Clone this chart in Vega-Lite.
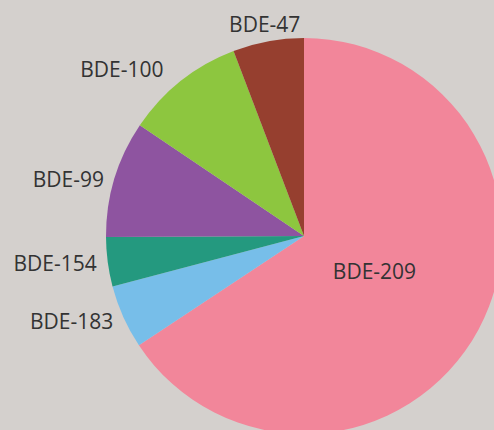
{
  "$schema": "https://vega.github.io/schema/vega-lite/v6.json",
  "autosize": {"type": "none"},
  "width": 380,
  "height": 388,
  "padding": {"left": 114, "top": 42, "right": 0, "bottom": 0},
  "background": "#D4D0CD",
  "config": {"view": {"stroke": null}, "text": {"font": "Open Sans", "fontSize": 21, "fill": "#333333"}},
  "data": {"values": [
    {"label": "BDE-209", "value": 65.69, "order": 1},
    {"label": "BDE-183", "value": 5.21, "order": 2},
    {"label": "BDE-154", "value": 4.01, "order": 3},
    {"label": "BDE-99", "value": 9.53, "order": 4},
    {"label": "BDE-100", "value": 9.77, "order": 5},
    {"label": "BDE-47", "value": 5.79, "order": 6}
  ]},
  "encoding": {
    "theta": {"field": "value", "type": "quantitative", "stack": true},
    "order": {"field": "order", "type": "quantitative", "sort": "ascending"}
  },
  "layer": [
    {
      "mark": {"type": "arc", "outerRadius": 198, "strokeWidth": 0},
      "encoding": {
        "color": {"field": "label", "type": "nominal", "legend": null,
          "scale": {"domain": ["BDE-209", "BDE-183", "BDE-154", "BDE-99", "BDE-100", "BDE-47"],
                    "range": ["#F2869A", "#77BEE9", "#24997F", "#8E54A0", "#8DC63F", "#963F2F"]}}
      }
    },
    {
      "mark": {"type": "text", "radius": 209, "align": "right", "baseline": "middle", "dy": 2},
      "encoding": {"text": {"condition": {"test": "datum.label == 'BDE-154' || datum.label == 'BDE-183'", "field": "label"}, "value": ""}}
    },
    {
      "mark": {"type": "text", "radius": 209, "align": "right", "baseline": "middle", "dy": 6},
      "encoding": {"text": {"condition": {"test": "datum.label == 'BDE-99'", "field": "label"}, "value": ""}}
    },
    {
      "mark": {"type": "text", "radius": 218, "align": "right", "baseline": "middle", "dx": -5, "dy": 6},
      "encoding": {"text": {"condition": {"test": "datum.label == 'BDE-100'", "field": "label"}, "value": ""}}
    },
    {
      "mark": {"type": "text", "radius": 217, "align": "center", "baseline": "middle", "dy": 3},
      "encoding": {"text": {"condition": {"test": "datum.label == 'BDE-47'", "field": "label"}, "value": ""}}
    },
    {
      "mark": {"type": "text", "radius": 80, "align": "center", "baseline": "middle", "dy": -1},
      "encoding": {"text": {"condition": {"test": "datum.label == 'BDE-209'", "field": "label"}, "value": ""}}
    }
  ]
}
